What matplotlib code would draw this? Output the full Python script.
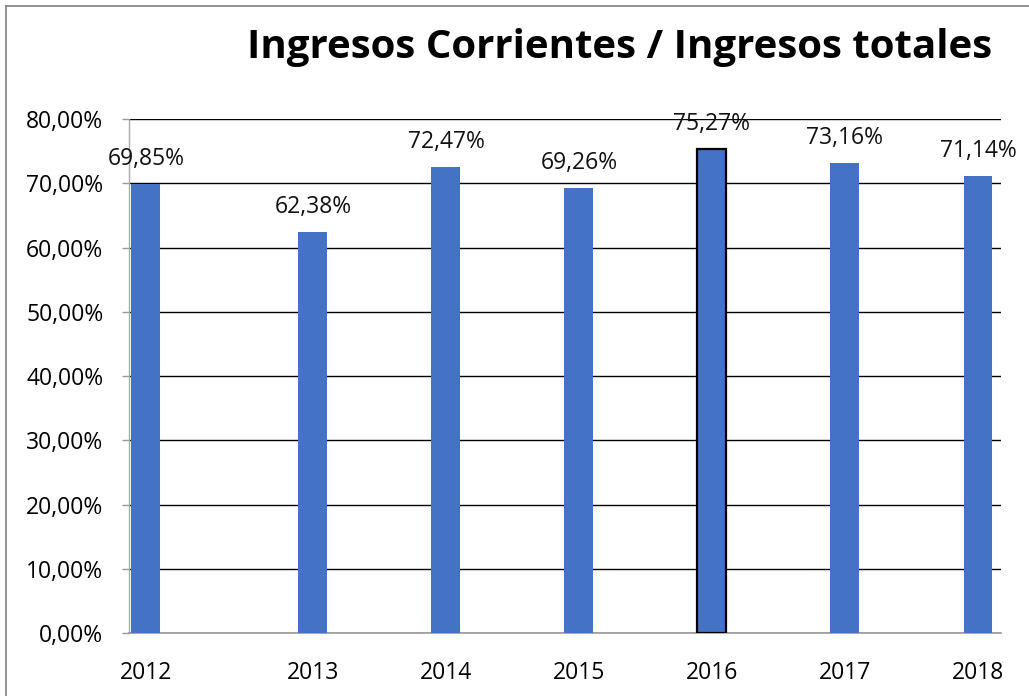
import numpy as np
import matplotlib
matplotlib.use("Agg")
import matplotlib.pyplot as plt
from matplotlib.lines import Line2D

years = ["2012", "2013", "2014", "2015", "2016", "2017", "2018"]
ratios = [69.85, 62.38, 72.47, 69.26, 75.27, 73.16, 71.14]
value_labels = ["69,85%", "62,38%", "72,47%", "69,26%", "75,27%", "73,16%", "71,14%"]
y_ticks = [0, 10, 20, 30, 40, 50, 60, 70, 80]
y_tick_labels = ["0,00%", "10,00%", "20,00%", "30,00%", "40,00%", "50,00%", "60,00%", "70,00%", "80,00%"]
title = "Ingresos Corrientes / Ingresos totales"

plt.rcParams['font.family'] = ['Open Sans', 'DejaVu Sans']

fig = plt.figure(figsize=(10.29, 6.96), dpi=100)
ax = fig.add_axes([0.1254, 0.0905, 0.9728 - 0.1254, 0.829 - 0.0905])

pos = np.arange(len(years), dtype=float)
pos[0] -= 0.256  # first category sits closer to the axis in the original layout

bar_color = "#4472C4"
bars = ax.bar(pos, ratios, width=0.218, color=bar_color, zorder=3)
# 2016 bar has a black outline
bars[4].set_edgecolor("black")
bars[4].set_linewidth(1.6)

for p, v, lab in zip(pos, ratios, value_labels):
    ax.annotate(lab, (p, v), xytext=(0, 18), textcoords="offset points",
                ha="center", va="center", fontsize=16.5, color="#111111", zorder=5)

ax.set_xlim(-0.383, 6.173)
ax.set_ylim(0, 80)
ax.set_yticks(y_ticks)
ax.set_yticklabels(y_tick_labels, fontsize=16.5)
ax.set_xticks(pos)
ax.set_xticklabels(years, fontsize=16.5)

ax.yaxis.grid(True, color="black", linewidth=1.0, zorder=0)
ax.set_axisbelow(True)
ax.tick_params(axis="y", length=5, width=1, color="#999999", pad=13.5)
ax.tick_params(axis="x", length=0, pad=20)

for s in ["top", "right"]:
    ax.spines[s].set_visible(False)
ax.spines["left"].set_color("#aaaaaa")
ax.spines["bottom"].set_color("#999999")
ax.spines["left"].set_linewidth(1.0)
ax.spines["bottom"].set_linewidth(1.2)

fig.text(0.6025, 0.932, title, ha="center", va="center", fontsize=29,
         fontweight="bold")

# outer frame (left and top edges visible)
fig.add_artist(Line2D([6 / 1029, 6 / 1029], [0, 1 - 6 / 696], transform=fig.transFigure,
                      color="#808080", linewidth=1.2))
fig.add_artist(Line2D([6 / 1029, 1], [1 - 6 / 696, 1 - 6 / 696], transform=fig.transFigure,
                      color="#808080", linewidth=1.2))

fig.savefig("out.png", dpi=100)
